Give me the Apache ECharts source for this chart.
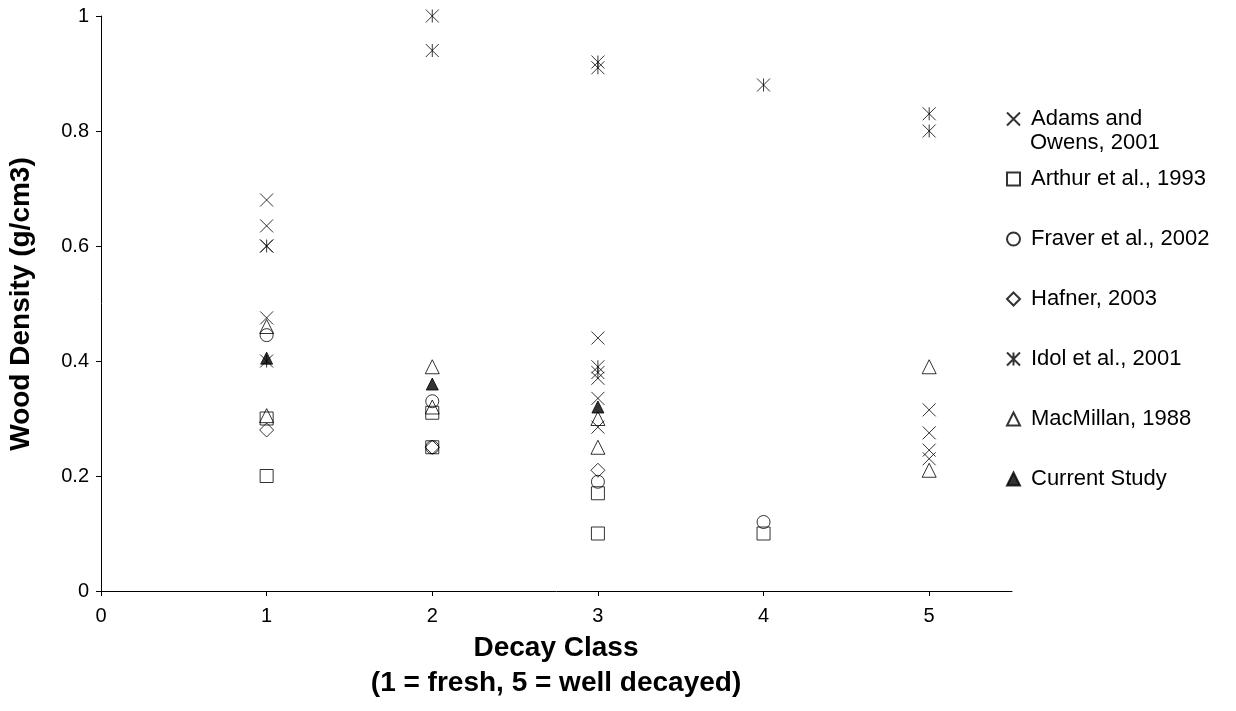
<!DOCTYPE html>
<html>
<head>
<meta charset="utf-8">
<title>Wood density by decay class</title>
<script src="https://cdn.jsdelivr.net/npm/echarts@6/dist/echarts.min.js"></script>
<style>
  html, body { margin: 0; padding: 0; background: #fff; }
  #chart { width: 1236px; height: 711px; }
</style>
</head>
<body>
<div id="chart"></div>
<script>
// Wood density (g/cm3) by decay class, one [class, density] pair per published value
const adams     = [[1, 0.68], [1, 0.635], [1, 0.60], [1, 0.475],
                   [3, 0.44], [3, 0.37], [3, 0.335], [3, 0.285],
                   [5, 0.315], [5, 0.275], [5, 0.245], [5, 0.23]];
const arthur    = [[1, 0.30], [1, 0.20], [2, 0.31], [2, 0.25], [3, 0.17], [3, 0.10], [4, 0.10]];
const fraver    = [[1, 0.445], [2, 0.33], [2, 0.25], [3, 0.19], [4, 0.12]];
const hafner    = [[1, 0.28], [2, 0.25], [3, 0.21]];
const idol      = [[1, 0.60], [1, 0.40], [2, 1.00], [2, 0.94], [3, 0.92], [3, 0.91],
                   [3, 0.39], [3, 0.38], [4, 0.88], [5, 0.83], [5, 0.80]];
const macmillan = [[1, 0.46], [1, 0.305], [2, 0.39], [2, 0.32], [3, 0.30], [3, 0.25], [5, 0.39], [5, 0.21]];
const current   = [[1, 0.405], [2, 0.36], [3, 0.32]];

const seriesNames = ['Adams and Owens, 2001', 'Arthur et al., 1993', 'Fraver et al., 2002',
                     'Hafner, 2003', 'Idol et al., 2001', 'MacMillan, 1988', 'Current Study'];
const classTicks = [0, 1, 2, 3, 4, 5];

const FONT = '"Liberation Sans", Arial, Helvetica, sans-serif';
const CROSS = 'path://M0,0L10,10M10,0L0,10';
const ASTERISK = 'path://M0,0L10,10M10,0L0,10M5,0L5,10';

const hollow = { color: 'rgba(255,255,255,0)', borderColor: '#000', borderWidth: 1 };

function scatter(name, data, symbol, size, itemStyle) {
  return {
    name: name,
    type: 'scatter',
    data: data,
    symbol: symbol,
    symbolSize: size,
    itemStyle: itemStyle,
    emphasis: { disabled: true },
    silent: true
  };
}

const chart = echarts.init(document.getElementById('chart'), null, { renderer: 'canvas' });

chart.setOption({
  animation: false,
  backgroundColor: '#fff',
  textStyle: { fontFamily: FONT, color: '#000' },
  grid: { left: 101, right: 224, top: 16, bottom: 120, containLabel: false },
  xAxis: {
    type: 'value',
    min: 0,
    max: 5.5,
    interval: 1,
    splitLine: { show: false },
    axisLine: { lineStyle: { color: '#000', width: 1 } },
    axisTick: { customValues: classTicks, length: 5, inside: false, lineStyle: { color: '#000' } },
    axisLabel: { customValues: classTicks, fontSize: 20, color: '#000', margin: 15, fontFamily: FONT }
  },
  yAxis: {
    type: 'value',
    min: 0,
    max: 1,
    interval: 0.2,
    splitLine: { show: false },
    axisLine: { show: true, lineStyle: { color: '#000', width: 1 } },
    axisTick: { show: true, length: 5, inside: false, lineStyle: { color: '#000' } },
    axisLabel: { fontSize: 20, color: '#000', margin: 12, fontFamily: FONT }
  },
  legend: {
    orient: 'vertical',
    left: 1006,
    top: 107.5,
    padding: 0,
    itemWidth: 13,
    itemHeight: 13,
    itemGap: 37,
    selectedMode: false,
    // the first entry wraps: its second line is a separate text just below
    formatter: function (name) {
      return name === seriesNames[0] ? 'Adams and' : name;
    },
    textStyle: { fontSize: 22, lineHeight: 23, color: '#000', fontFamily: FONT, padding: [0, 0, 0, 6] },
    data: seriesNames
  },
  graphic: [
    {
      type: 'text', x: 1030, y: 143,
      style: { text: 'Owens, 2001', font: '22px ' + FONT, fill: '#000', align: 'left', verticalAlign: 'middle' }
    },
    {
      type: 'text', x: 556, y: 648,
      style: { text: 'Decay Class', font: 'bold 28px ' + FONT, fill: '#000',
               align: 'center', verticalAlign: 'middle' }
    },
    {
      type: 'text', x: 556, y: 683,
      style: { text: '(1 = fresh, 5 = well decayed)', font: 'bold 28px ' + FONT, fill: '#000',
               align: 'center', verticalAlign: 'middle' }
    },
    {
      type: 'text', x: 21, y: 304, rotation: Math.PI / 2,
      style: { text: 'Wood Density (g/cm3)', font: 'bold 28px ' + FONT, fill: '#000',
               align: 'center', verticalAlign: 'middle' }
    }
  ],
  series: [
    scatter(seriesNames[0], adams, CROSS, 13, hollow),
    scatter(seriesNames[1], arthur, 'rect', 13, hollow),
    scatter(seriesNames[2], fraver, 'circle', 13, hollow),
    scatter(seriesNames[3], hafner, 'diamond', 14, hollow),
    scatter(seriesNames[4], idol, ASTERISK, 13, hollow),
    scatter(seriesNames[5], macmillan, 'triangle', 14, hollow),
    scatter(seriesNames[6], current, 'triangle', 12, { color: '#000', borderColor: '#000', borderWidth: 1 })
  ]
});
</script>
</body>
</html>
